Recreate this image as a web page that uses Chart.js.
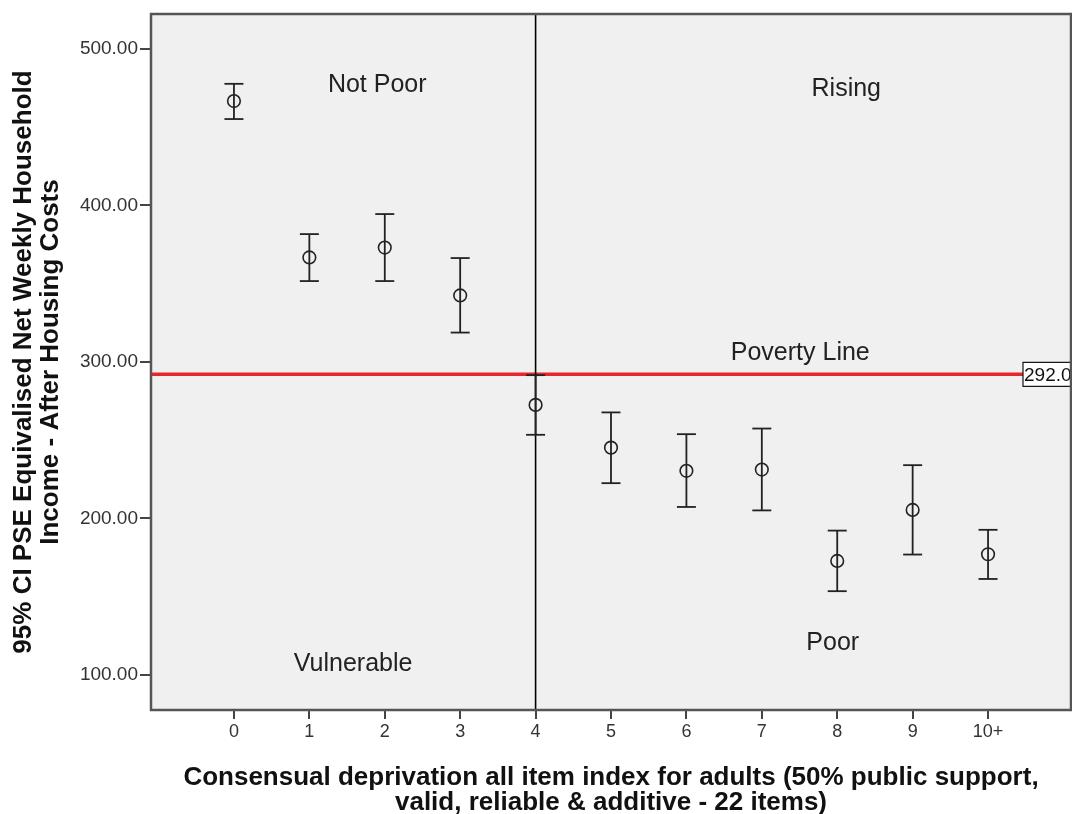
<!DOCTYPE HTML>
<html>
<head>
    <title>Deprivation vs income</title>
    <meta charset="utf-8" />
    <script src="https://cdn.jsdelivr.net/npm/chart.js"></script>
    <style>
        body {
            margin: 0;
            background: #fff;
            overflow: hidden;
        }
        #chartBox {
            width: 1072px;
            height: 814px;
        }
    </style>
</head>
<body>

<div id="chartBox">
    <canvas id="incomeChart" width="1072" height="814"></canvas>
</div>

<script>
    // categories on the x axis (deprivation score)
    const categories = ['0', '1', '2', '3', '4', '5', '6', '7', '8', '9', '10+'];
    const xPositions = [0, 1, 2, 3, 4, 5, 6, 7, 8, 9, 10];

    // mean and 95% CI
    const meanValues  = [466.6, 366.7, 373.0, 342.4, 272.5, 245.2, 230.4, 231.2, 172.8, 205.4, 177.1];
    const upperValues = [477.6, 381.6, 394.4, 366.3, 291.5, 267.7, 253.8, 257.4, 192.2, 234.0, 192.7];
    const lowerValues = [455.1, 351.6, 351.6, 318.7, 253.4, 222.5, 207.3, 205.1, 153.5, 176.9, 161.3];

    const yTickValues = [100, 200, 300, 400, 500];
    const povertyLine = 292.0;
    const cutPoint = 4;

    const X_MIN = -1.1, X_MAX = 11.1;
    const Y_MIN = 77.6, Y_MAX = 522.2;

    // quadrant labels, in data coordinates
    const notes = [
        { text: 'Not Poor', x: 1.9, y: 477.0 },
        { text: 'Rising', x: 8.12, y: 474.5 },
        { text: 'Poverty Line', x: 7.51, y: 305.6 },
        { text: 'Vulnerable', x: 1.58, y: 107.0 },
        { text: 'Poor', x: 7.94, y: 120.4 }
    ];

    const FONT = "'Liberation Sans', Arial, sans-serif";

    // stems: lo -> hi, then a gap
    const stemData = [];
    xPositions.forEach((x, i) => {
        stemData.push({ x: x, y: lowerValues[i] });
        stemData.push({ x: x, y: upperValues[i] });
        stemData.push({ x: x, y: null });
    });

    const plotFrame = {
        id: 'plotFrame',
        beforeDatasetsDraw(chart) {
            const a = chart.chartArea;
            const c = chart.ctx;
            c.save();
            c.fillStyle = '#f0f0f0';
            c.fillRect(a.left, a.top, a.right - a.left, a.bottom - a.top);
            c.restore();
        },
        afterDraw(chart) {
            const a = chart.chartArea;
            const c = chart.ctx;
            const xs = chart.scales.x, ys = chart.scales.y;
            c.save();
            // texts
            c.fillStyle = '#222';
            c.font = '25px ' + FONT;
            c.textAlign = 'center';
            c.textBaseline = 'middle';
            notes.forEach(n => {
                c.fillText(n.text, xs.getPixelForValue(n.x), ys.getPixelForValue(n.y));
            });
            // poverty line value box
            const py = ys.getPixelForValue(povertyLine);
            c.fillStyle = '#fff';
            c.fillRect(a.right - 48, py - 12, 50, 24);
            c.strokeStyle = '#111';
            c.lineWidth = 1.2;
            c.strokeRect(a.right - 48, py - 12, 50, 24);
            c.fillStyle = '#111';
            c.font = '19px ' + FONT;
            c.textAlign = 'left';
            c.fillText(povertyLine.toFixed(1), a.right - 47, py + 1);
            // frame
            c.strokeStyle = '#555';
            c.lineWidth = 2.5;
            c.strokeRect(a.left, a.top, a.right - a.left, a.bottom - a.top);
            c.restore();
        }
    };

    const ctx = document.getElementById('incomeChart').getContext('2d');
    const chart = new Chart(ctx, {
        type: 'scatter',
        data: {
            datasets: [
                {
                    label: 'Mean',
                    data: xPositions.map((x, i) => ({ x: x, y: meanValues[i] })),
                    pointStyle: 'circle',
                    pointRadius: 6.3,
                    pointBorderWidth: 1.6,
                    pointBorderColor: '#222',
                    pointBackgroundColor: 'rgba(0,0,0,0)',
                    order: 1
                },
                {
                    label: 'CI',
                    data: stemData,
                    showLine: true,
                    spanGaps: false,
                    borderColor: '#222',
                    borderWidth: 1.8,
                    pointRadius: 0,
                    order: 2
                },
                {
                    label: 'Upper',
                    data: xPositions.map((x, i) => ({ x: x, y: upperValues[i] })),
                    pointStyle: 'line',
                    pointRadius: 9.5,
                    pointBorderWidth: 1.8,
                    pointBorderColor: '#222',
                    order: 2
                },
                {
                    label: 'Lower',
                    data: xPositions.map((x, i) => ({ x: x, y: lowerValues[i] })),
                    pointStyle: 'line',
                    pointRadius: 9.5,
                    pointBorderWidth: 1.8,
                    pointBorderColor: '#222',
                    order: 2
                },
                {
                    label: 'Cut',
                    data: [{ x: cutPoint, y: Y_MIN }, { x: cutPoint, y: Y_MAX }],
                    showLine: true,
                    borderColor: '#000',
                    borderWidth: 1.6,
                    pointRadius: 0,
                    order: 3
                },
                {
                    label: 'Poverty line',
                    data: [{ x: X_MIN, y: povertyLine }, { x: X_MAX, y: povertyLine }],
                    showLine: true,
                    borderColor: '#e8262b',
                    borderWidth: 3.5,
                    pointRadius: 0,
                    order: 4
                }
            ]
        },
        options: {
            responsive: false,
            animation: false,
            events: [],
            layout: {
                autoPadding: false,
                padding: { top: 14, right: 1, left: 0, bottom: 0 }
            },
            plugins: {
                legend: { display: false },
                tooltip: { enabled: false }
            },
            scales: {
                x: {
                    type: 'linear',
                    min: X_MIN,
                    max: X_MAX,
                    afterBuildTicks: s => { s.ticks = xPositions.map(v => ({ value: v })); },
                    afterFit: s => { s.height = 104; },
                    border: { display: false },
                    grid: {
                        drawOnChartArea: false,
                        tickLength: 9,
                        color: '#444',
                        lineWidth: 2
                    },
                    ticks: {
                        callback: (v) => categories[xPositions.indexOf(v)],
                        color: '#333',
                        font: { family: FONT, size: 18 },
                        padding: 2,
                        maxRotation: 0
                    },
                    title: {
                        display: true,
                        text: ['Consensual deprivation all item index for adults (50% public support,',
                               'valid, reliable & additive - 22 items)'],
                        color: '#111',
                        font: { family: FONT, size: 26, weight: 'bold', lineHeight: 0.98 },
                        padding: { top: 10, bottom: -2 }
                    }
                },
                y: {
                    min: Y_MIN,
                    max: Y_MAX,
                    afterBuildTicks: s => { s.ticks = yTickValues.map(v => ({ value: v })); },
                    afterFit: s => { s.width = 151; },
                    border: { display: false },
                    grid: {
                        drawOnChartArea: false,
                        tickLength: 11,
                        color: '#444',
                        lineWidth: 2
                    },
                    ticks: {
                        callback: v => v.toFixed(2),
                        color: '#333',
                        font: { family: FONT, size: 19 },
                        padding: 2
                    },
                    title: {
                        display: true,
                        text: ['95% CI PSE Equivalised Net Weekly Household',
                               'Income - After Housing Costs'],
                        color: '#111',
                        font: { family: FONT, size: 26, weight: 'bold', lineHeight: 1.04 },
                        padding: { top: 10, bottom: 0 }
                    }
                }
            }
        },
        plugins: [plotFrame]
    });
</script>

</body>
</html>
